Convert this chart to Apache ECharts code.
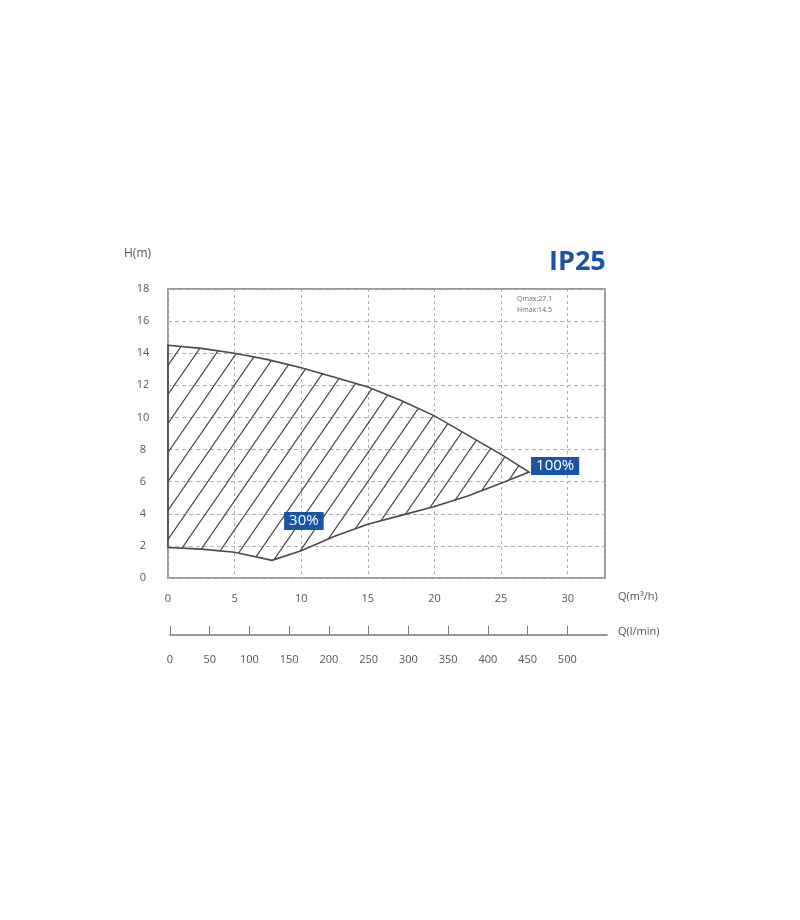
<!DOCTYPE html>
<html><head><meta charset="utf-8">
<script src="https://cdn.jsdelivr.net/npm/echarts@6/dist/echarts.min.js"></script>
<style>html,body{margin:0;padding:0;background:#fff}#c{width:800px;height:920px}</style>
</head><body><div id="c"></div>
<script>
// Data
const upperQ = [0, 2.5, 5, 7.5, 10, 12.5, 15, 17.5, 20, 22.5, 25, 27.1];
const upperH = [14.5, 14.3, 14.0, 13.6, 13.1, 12.5, 11.9, 11.05, 10.1, 8.9, 7.7, 6.6];
const lowerQ = [27.1, 25, 22.5, 20, 17.5, 15, 12.5, 10, 7.8, 5, 2.5, 0];
const lowerH = [6.6, 5.9, 5.1, 4.45, 3.9, 3.35, 2.6, 1.7, 1.1, 1.6, 1.8, 1.9];
const labelNames = ['100%', '30%'];
const labelQ = [27.1, 10.2];
const labelH = [6.6, 3.55];
const qTicks = [0, 5, 10, 15, 20, 25, 30];
const hTicks = [0, 2, 4, 6, 8, 10, 12, 14, 16, 18];
const lminTicks = [0, 50, 100, 150, 200, 250, 300, 350, 400, 450, 500];
const infoLines = ['Qmax:27.1', 'Hmax:14.5'];

const polygon = upperQ.map((q, i) => [q, upperH[i]]).concat(lowerQ.map((q, i) => [q, lowerH[i]]));

// hatch pattern
const TW = 20, TH = 29;
const tile = document.createElement('canvas');
tile.width = TW; tile.height = TH;
const tc = tile.getContext('2d');
tc.strokeStyle = '#444'; tc.lineWidth = 1.2;
[-TW, 0, TW].forEach(dx => {
  tc.beginPath(); tc.moveTo(dx, TH); tc.lineTo(dx + TW, 0); tc.stroke();
});

const font = '"Open Sans", sans-serif';
const blue = '#1a55a3';
const chart = echarts.init(document.getElementById('c'), null, {renderer: 'canvas'});
chart.setOption({
  backgroundColor: '#fff',
  animation: false,
  grid: [
    {left: 168, top: 289, right: 195, bottom: 342, show: true, borderColor: '#9a9a9a', borderWidth: 2, backgroundColor: 'transparent', containLabel: false},
    {left: 170, top: 635, width: 437, height: 0}
  ],
  xAxis: [
    {type: 'value', gridIndex: 0, min: 0, max: 32.8, interval: 5,
     axisLine: {show: false}, axisTick: {show: false},
     axisLabel: {customValues: qTicks, color: '#555', fontSize: 11, fontFamily: font, margin: 15},
     splitLine: {show: true, lineStyle: {color: '#b0b0b0', type: [3, 3], width: 1}}},
    {type: 'value', gridIndex: 1, min: 0, max: 550, interval: 50, position: 'bottom',
     axisLine: {show: true, lineStyle: {color: '#777', width: 1.5}},
     axisTick: {show: true, inside: true, length: 9, customValues: lminTicks, lineStyle: {color: '#777', width: 1}},
     axisLabel: {customValues: lminTicks, color: '#555', fontSize: 11, fontFamily: font, margin: 19},
     splitLine: {show: false}}
  ],
  yAxis: [
    {type: 'value', gridIndex: 0, min: 0, max: 18, interval: 2,
     axisLine: {show: false}, axisTick: {show: false},
     axisLabel: {customValues: hTicks, color: '#555', fontSize: 11, fontFamily: font, margin: 25, align: 'center'},
     splitLine: {show: true, lineStyle: {color: '#b0b0b0', type: [4, 3], width: 1}}},
    {type: 'value', gridIndex: 1, show: false}
  ],
  series: [
    {type: 'custom', xAxisIndex: 0, yAxisIndex: 0, data: [0], silent: true, z: 3,
     renderItem: function (params, api) {
       const pts = polygon.map(p => api.coord(p));
       return {type: 'polygon', shape: {points: pts},
         style: {fill: {image: tile, repeat: 'repeat'}, stroke: '#4a4a4a', lineWidth: 1.6}};
     }},
    {type: 'scatter', xAxisIndex: 0, yAxisIndex: 0, symbolSize: 0, z: 5, silent: true,
     itemStyle: {opacity: 1},
     data: labelQ.map((q, i) => ({
       value: [q, labelH[i]], name: labelNames[i],
       label: i === 0 ? {position: 'right', distance: 2, offset: [0, -6]} : {position: 'inside'}
     })),
     label: {show: true, opacity: 1, formatter: p => p.name, color: '#fff', backgroundColor: blue,
       fontSize: 15, fontWeight: 500, fontFamily: font, padding: [2, 5, 1, 5]}}
  ],
  graphic: [
    {type: 'text', left: 124, top: 248, style: {text: 'H(m)', fill: '#555', font: '12px ' + font}},
    {type: 'text', left: 549, top: 249, style: {text: 'IP25', fill: blue, font: 'bold 27px ' + font}},
    {type: 'text', left: 517, top: 293, style: {text: infoLines.join('\n'), fill: '#666', font: '7px ' + font, lineHeight: 11}},
    {type: 'text', left: 618, top: 591, style: {text: 'Q(m³/h)', fill: '#555', font: '11px ' + font}},
    {type: 'text', left: 618, top: 626, style: {text: 'Q(l/min)', fill: '#555', font: '11px ' + font}}
  ]
});
</script></body></html>
